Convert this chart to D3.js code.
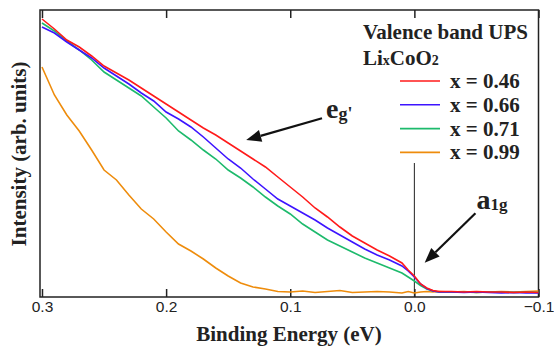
<!DOCTYPE html>
<html>
<head>
<meta charset="utf-8">
<script src="https://cdn.jsdelivr.net/npm/d3@7"></script>
<style>
  body { margin: 0; background: #fff; }
  .serif { font-family: "Liberation Serif", "Times New Roman", serif; font-weight: bold; fill: #222; }
</style>
</head>
<body>
<div id="chart"></div>
<script>
// binding energy (eV), shared by every spectrum
var energy = [0.30, 0.29, 0.28, 0.27, 0.26, 0.25, 0.24, 0.23, 0.22, 0.21,
  0.20, 0.19, 0.18, 0.17, 0.16, 0.15, 0.14, 0.13, 0.12, 0.11,
  0.10, 0.09, 0.08, 0.07, 0.06, 0.05, 0.04, 0.03, 0.02, 0.01,
  0.005, 0.0, -0.005, -0.01, -0.015, -0.02,
  -0.03, -0.04, -0.05, -0.06, -0.07, -0.08, -0.09, -0.10];

// intensity (arb. units) for each composition
var x046 = [278, 268, 257, 250, 241, 231, 224, 217, 209, 201,
  193, 185, 177, 169, 162, 154, 146, 138, 130, 120,
  110, 100, 89, 80, 70, 61, 54, 47, 41, 34,
  27, 21, 13, 9, 6.5, 5.5,
  5.5, 5, 5.5, 5, 5, 4.5, 5, 4.5];
var x066 = [270, 264, 255, 247, 239, 229, 221, 213, 204, 196,
  185, 178, 170, 160, 149, 138, 129, 118, 108, 98,
  91, 84, 77, 69, 62, 55, 48, 42, 37, 31,
  26, 20, 13, 8.5, 6, 5,
  5, 4.5, 5, 4.5, 4, 4.5, 4, 4];
var x071 = [274, 266, 256, 247, 237, 225, 217, 209, 201, 190,
  179, 166, 157, 147, 138, 127, 119, 110, 100, 91,
  83, 73, 65, 57, 51, 45, 39, 34, 29, 24,
  20, 16, 11.5, 8, 6, 5,
  5, 5, 4.5, 5, 5, 4.5, 5, 4.5];
var x099 = [230, 202, 182, 166, 147, 127, 117, 102, 88, 78,
  65, 53, 46, 38, 29, 21, 14, 10, 8, 5.5,
  5, 6, 4.5, 5.5, 6.5, 4.5, 5, 5.5, 5, 4,
  5.5, 4, 5, 5.5, 5, 5.5,
  5, 5.5, 4.5, 5, 5.5, 5, 5.5, 6];

var seriesNames = ["x = 0.46", "x = 0.66", "x = 0.71", "x = 0.99"];
var seriesColors = ["#ff1a1a", "#3d14ff", "#1dba6c", "#ee8c0c"];
var tickValues = [0.3, 0.2, 0.1, 0.0, -0.1];

var width = 554,
  height = 347;

var svg = d3.select('#chart')
  .append('svg')
  .attr('width', width)
  .attr('height', height);

var x = d3.scaleLinear().domain([0.3016, -0.1]).range([40, 538.5]);
var y = d3.scaleLinear().domain([0, 287]).range([297, 10]);

// axes, ticks pointing inward
svg.append('g')
  .attr('transform', 'translate(0,297)')
  .call(d3.axisBottom(x).tickValues(tickValues).tickSize(-8).tickPadding(4).tickFormat(d3.format('.1f')))
  .call(g => g.select('.domain').remove())
  .call(g => g.selectAll('line').attr('stroke', '#222').attr('stroke-width', 1.5))
  .call(g => g.selectAll('text')
    .style('font-family', '"Liberation Sans", Arial, sans-serif')
    .style('font-size', '15.5px')
    .attr('fill', '#222'));

svg.append('g')
  .attr('transform', 'translate(0,10)')
  .call(d3.axisTop(x).tickValues(tickValues).tickSize(-8).tickFormat(''))
  .call(g => g.select('.domain').remove())
  .call(g => g.selectAll('line').attr('stroke', '#222').attr('stroke-width', 1.5));

// frame
svg.append('rect')
  .attr('x', 40).attr('y', 10)
  .attr('width', 498.5).attr('height', 287)
  .attr('fill', 'none')
  .attr('stroke', '#222')
  .attr('stroke-width', 1.5);

// zero line (Fermi level)
svg.append('line')
  .attr('x1', x(0)).attr('x2', x(0))
  .attr('y1', 163).attr('y2', 297)
  .attr('stroke', '#222')
  .attr('stroke-width', 1);

var spectra = [x046, x066, x071, x099];
var line = d3.line()
  .x((d, i) => x(energy[i]))
  .y(d => y(d));

// draw orange first so the others sit on top
var drawOrder = [3, 2, 1, 0];
drawOrder.forEach(function (k) {
  svg.append('path')
    .datum(spectra[k])
    .attr('d', line)
    .attr('fill', 'none')
    .attr('stroke', seriesColors[k])
    .attr('stroke-width', 1.6);
});

// axis titles
svg.append('text')
  .attr('class', 'serif')
  .attr('x', 289).attr('y', 341)
  .attr('text-anchor', 'middle')
  .style('font-size', '21px')
  .text('Binding Energy (eV)');

svg.append('text')
  .attr('class', 'serif')
  .attr('transform', 'translate(26,154) rotate(-90)')
  .attr('text-anchor', 'middle')
  .style('font-size', '21px')
  .text('Intensity (arb. units)');

// legend
svg.append('text')
  .attr('class', 'serif')
  .attr('x', 363).attr('y', 39)
  .style('font-size', '21px')
  .text('Valence band UPS');

var formula = svg.append('text')
  .attr('class', 'serif')
  .attr('x', 363).attr('y', 65)
  .style('font-size', '21px');
formula.append('tspan').text('Li');
formula.append('tspan').style('font-size', '14px').text('x');
formula.append('tspan').text('CoO');
formula.append('tspan').style('font-size', '14px').text('2');

seriesNames.forEach(function (name, i) {
  var ly = 81 + i * 23.8;
  svg.append('line')
    .attr('x1', 400).attr('x2', 440)
    .attr('y1', ly).attr('y2', ly)
    .attr('stroke', seriesColors[i])
    .attr('stroke-width', 1.6);
  svg.append('text')
    .attr('class', 'serif')
    .attr('x', 450).attr('y', ly + 7)
    .style('font-size', '21px')
    .text(name);
});

// annotations: [tail energy, tail intensity, tip energy, tip intensity]
var arrowEg = [0.0744, 178.7, 0.1355, 157];
var arrowA1g = [-0.0492, 83.7, -0.0083, 34.3];

function arrow(a) {
  var x1 = x(a[0]), y1 = y(a[1]), x2 = x(a[2]), y2 = y(a[3]);
  var ang = Math.atan2(y2 - y1, x2 - x1);
  var len = 15, half = 6;
  var bx = x2 - len * Math.cos(ang), by = y2 - len * Math.sin(ang);
  svg.append('line')
    .attr('x1', x1).attr('y1', y1)
    .attr('x2', bx).attr('y2', by)
    .attr('stroke', '#111')
    .attr('stroke-width', 2.2);
  var pts = [
    [x2, y2],
    [bx + half * Math.sin(ang), by - half * Math.cos(ang)],
    [bx - half * Math.sin(ang), by + half * Math.cos(ang)]
  ];
  svg.append('polygon')
    .attr('points', pts.map(p => p.join(',')).join(' '))
    .attr('fill', '#111');
}
arrow(arrowEg);
arrow(arrowA1g);

var eg = svg.append('text')
  .attr('class', 'serif')
  .attr('x', x(arrowEg[0]) + 4).attr('y', y(arrowEg[1]))
  .style('font-size', '28px');
eg.append('tspan').text('e');
eg.append('tspan').style('font-size', '18px').attr('dy', 2).text("g'");

var a1g = svg.append('text')
  .attr('class', 'serif')
  .attr('x', x(arrowA1g[0]) + 1).attr('y', y(arrowA1g[1]) - 4)
  .style('font-size', '28px');
a1g.append('tspan').text('a');
a1g.append('tspan').style('font-size', '17px').attr('dy', 1).text('1g');
</script>
</body>
</html>
